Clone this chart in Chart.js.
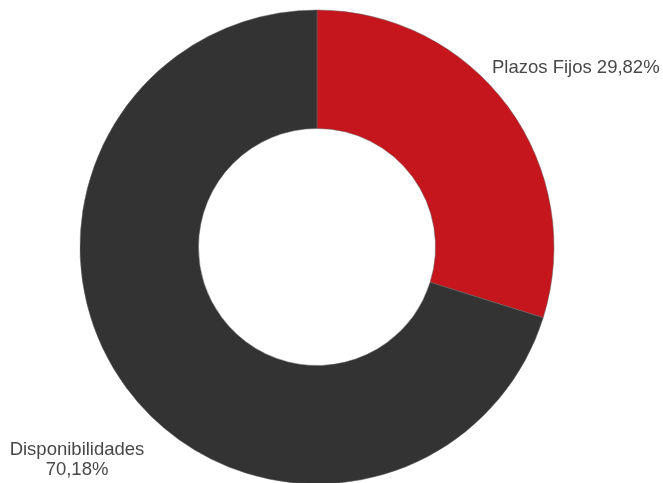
<!DOCTYPE html>
<html>
<head>
<meta charset="utf-8">
<script src="https://cdn.jsdelivr.net/npm/chart.js@4.4.0/dist/chart.umd.min.js"></script>
<style>
  html, body { margin: 0; padding: 0; background: #fff; }
  #wrap { width: 663px; height: 483px; }
</style>
</head>
<body>
<div id="wrap"><canvas id="chart" width="663" height="483"></canvas></div>
<script>
// Chart data
const categories = ['Plazos Fijos', 'Disponibilidades'];
const shares = [29.82, 70.18];
const sliceColors = ['#c4161c', '#333333'];

function pct(v) {
    return v.toFixed(2).replace('.', ',') + '%';
}

// Draws the slice labels outside the ring
const sliceLabels = {
    id: 'sliceLabels',
    afterDraw(chart) {
        const {ctx} = chart;
        const arcs = chart.getDatasetMeta(0).data;
        ctx.save();
        ctx.font = '18.5px "Liberation Sans", Arial, sans-serif';
        ctx.fillStyle = '#484848';
        ctx.textBaseline = 'alphabetic';

        // Plazos Fijos: right of the ring, upper part
        const a0 = arcs[0];
        ctx.textAlign = 'left';
        ctx.fillText(categories[0] + ' ' + pct(shares[0]), a0.x + 175, a0.y - 174);

        // Disponibilidades: lower left, two lines
        const a1 = arcs[1];
        ctx.textAlign = 'center';
        ctx.fillText(categories[1], a1.x - 240, a1.y + 208);
        ctx.fillText(pct(shares[1]), a1.x - 240, a1.y + 228);
        ctx.restore();
    }
};

new Chart(document.getElementById('chart'), {
    type: 'doughnut',
    data: {
        labels: categories,
        datasets: [{
            data: shares,
            backgroundColor: sliceColors,
            borderColor: '#666',
            borderWidth: 0.5,
            radius: 237
        }]
    },
    options: {
        responsive: false,
        animation: false,
        cutout: '50%',
        layout: { padding: { left: 80, right: 109, top: 11, bottom: 0 } },
        plugins: {
            legend: { display: false },
            tooltip: { enabled: false }
        }
    },
    plugins: [sliceLabels]
});
</script>
</body>
</html>
